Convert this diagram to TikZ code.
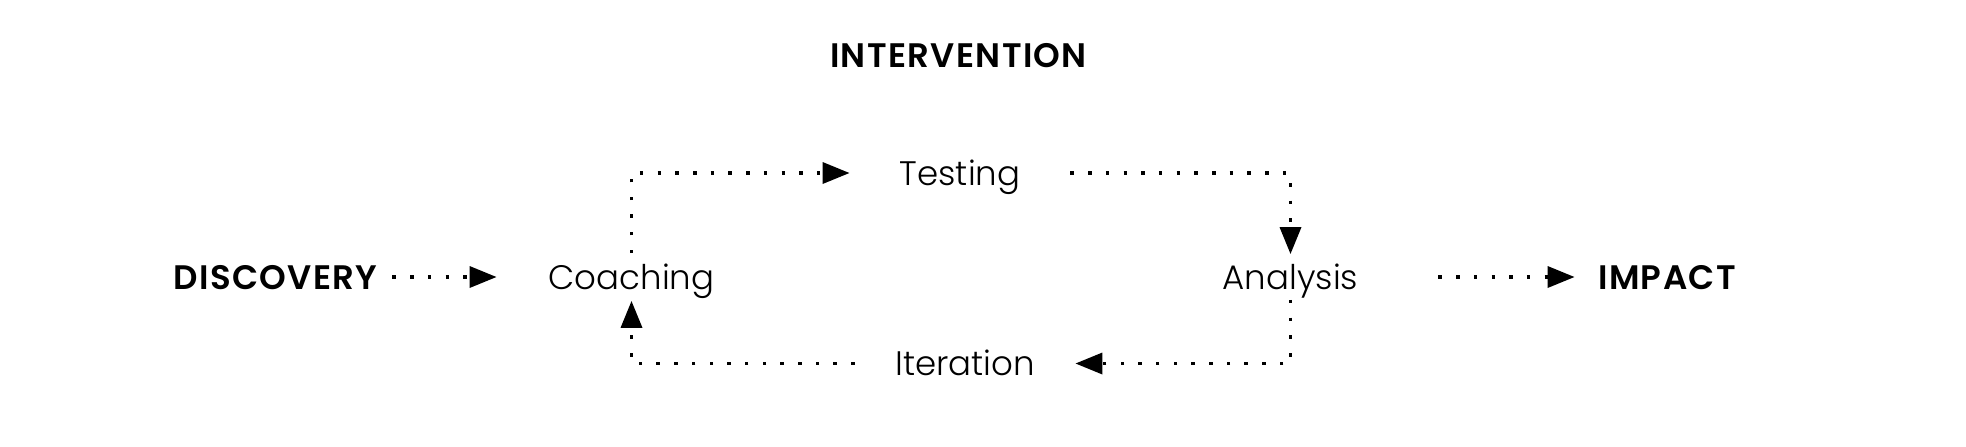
\documentclass[tikz,border=0pt]{standalone}
\usepackage{fontspec}
\setmainfont{Poppins}[UprightFont=* Light,BoldFont=* SemiBold,BoldFeatures={LetterSpace=4}]
\usetikzlibrary{arrows.meta}
\begin{document}
\begin{tikzpicture}[x=0.5pt,y=-0.5pt,
  stage/.style={inner sep=0pt,text height=12pt,text depth=0pt,font=\fontsize{17}{20}\selectfont},
  phase/.style={stage,font=\fontsize{17}{20}\selectfont\bfseries},
  flow/.style={line width=1.75pt,dash pattern=on 1.75pt off 7.1pt,-{Triangle[length=13.5pt,width=10.5pt]}}]
\useasboundingbox (0,0) rectangle (1966,446);
\node[phase] (interv) at (958.5,55) {INTERVENTION};
\node[phase,minimum width=116.5pt] (disc) at (275.5,277) {DISCOVERY};
\node[phase,minimum width=92pt] (impact) at (1667,277) {IMPACT};
\node[stage,minimum width=134.5pt,minimum height=23.5pt] (coach) at (631.5,277) {Coaching};
\node[stage,minimum width=110pt] (test) at (960,173) {Testing};
\node[stage,minimum width=147.5pt,minimum height=22.5pt] (anal) at (1290.5,277) {Analysis};
\node[stage,minimum width=110pt] (iter) at (965,363.5) {Iteration};
\draw[flow] (disc) -- (coach);
\draw[flow] (coach.north) |- (test.west);
\draw[flow] (test.east) -| (anal.north);
\draw[flow] (anal.south) |- (iter.east);
\draw[flow] (iter.west) -| (coach.south);
\draw[flow] (anal) -- (impact);
\end{tikzpicture}
\end{document}
